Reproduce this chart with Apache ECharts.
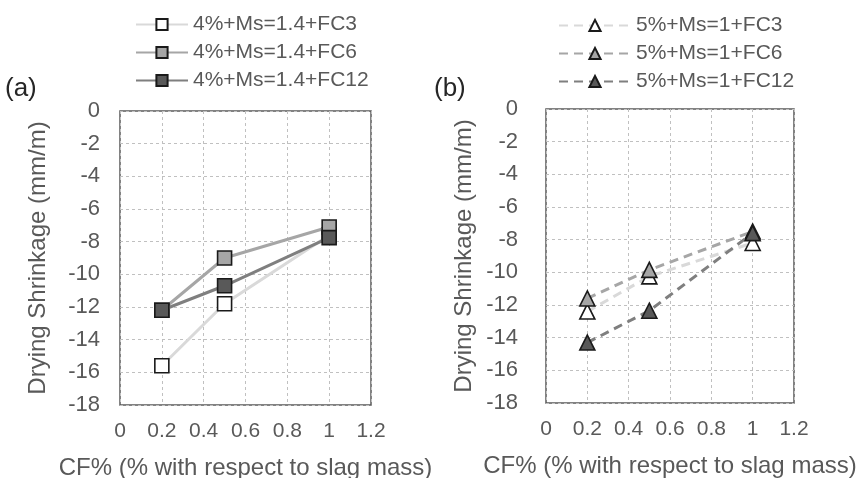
<!DOCTYPE html>
<html>
<head>
<meta charset="utf-8">
<script src="https://cdn.jsdelivr.net/npm/echarts@6/dist/echarts.min.js"></script>
<style>html,body{margin:0;padding:0;background:#fff}#c{width:867px;height:478px}</style>
</head>
<body>
<div id="c"></div>
<script>
// ---- data ----
const cfValues = [0.2, 0.5, 1];
const namesA = ['4%+Ms=1.4+FC3', '4%+Ms=1.4+FC6', '4%+Ms=1.4+FC12'];
const namesB = ['5%+Ms=1+FC3', '5%+Ms=1+FC6', '5%+Ms=1+FC12'];
const a_FC3 = [-15.6, -11.8, -7.6];
const a_FC6 = [-12.2, -9.0, -7.1];
const a_FC12 = [-12.2, -10.7, -7.75];
const b_FC3 = [-12.4, -10.25, -8.2];
const b_FC6 = [-11.6, -9.85, -7.5];
const b_FC12 = [-14.3, -12.35, -7.6];
const panelLabels = ['(a)', '(b)'];
const xTitle = 'CF% (% with respect to slag mass)';
const yTitle = 'Drying Shrinkage (mm/m)';

const FONT = "'Liberation Sans', Arial, sans-serif";
const TXT = '#595959';
const lineColors = ['#d9d9d9', '#a6a6a6', '#7f7f7f'];
const fillColors = ['#ffffff', '#a6a6a6', '#595959'];

function pts(vals) { return cfValues.map((x, i) => [x, vals[i]]); }

function xAxis(gi) {
  return {
    type: 'value', gridIndex: gi, min: 0, max: 1.2, interval: 0.2,
    name: xTitle, nameLocation: 'middle', nameGap: 51,
    nameTextStyle: { fontFamily: FONT, fontSize: 24, color: TXT },
    axisLine: { show: false }, axisTick: { show: false },
    axisLabel: { fontFamily: FONT, fontSize: 21, color: TXT, margin: 16,
      formatter: v => String(Math.round(v * 10) / 10) },
    splitLine: { show: true, lineStyle: { color: '#c0c0c0', type: [3, 3], width: 1 } }
  };
}
function yAxis(gi, margin) {
  return {
    type: 'value', gridIndex: gi, min: -18, max: 0, interval: 2,
    name: yTitle, nameLocation: 'middle', nameGap: 70, nameRotate: 90,
    nameTextStyle: { fontFamily: FONT, fontSize: 24, color: TXT },
    axisLine: { show: false }, axisTick: { show: false },
    axisLabel: { fontFamily: FONT, fontSize: 22, color: TXT, margin: margin },
    splitLine: { show: true, lineStyle: { color: '#c0c0c0', type: [3, 3], width: 1 } }
  };
}

function series(name, vals, idx, gi, sym, dashed) {
  return {
    name: name, type: 'line', xAxisIndex: gi, yAxisIndex: gi,
    data: pts(vals), symbol: sym, symbolSize: sym === 'rect' ? 14 : 15,
    lineStyle: { color: lineColors[idx], width: 3, type: dashed ? [9, 6] : 'solid' },
    itemStyle: { color: fillColors[idx], borderColor: '#1a1a1a', borderWidth: 1.6 },
    emphasis: { disabled: true }, animation: false, z: 2 + idx
  };
}

const chart = echarts.init(document.getElementById('c'), null, { renderer: 'canvas' });
chart.setOption({
  animation: false,
  backgroundColor: '#fff',
  grid: [
    { left: 120, width: 251, top: 111, height: 294, show: true, borderColor: '#595959', borderWidth: 1.5, backgroundColor: 'transparent', containLabel: false, outerBoundsMode: 'none' },
    { left: 546, width: 248, top: 109, height: 294, show: true, borderColor: '#595959', borderWidth: 1.5, backgroundColor: 'transparent', containLabel: false, outerBoundsMode: 'none' }
  ],
  xAxis: [xAxis(0), xAxis(1)],
  yAxis: [yAxis(0, 20), yAxis(1, 28)],
  legend: [
    { data: namesA, orient: 'vertical', left: 130, top: 9, itemWidth: 52, itemHeight: 14, itemGap: 7,
      textStyle: { fontFamily: FONT, fontSize: 21, color: TXT } },
    { data: namesB, orient: 'vertical', left: 553, top: 10, itemWidth: 72, itemHeight: 14, itemGap: 7,
      textStyle: { fontFamily: FONT, fontSize: 21, color: TXT } }
  ],
  graphic: [
    { type: 'text', left: 5, top: 76, style: { text: panelLabels[0], font: '26px ' + FONT, fill: '#262626' } },
    { type: 'text', left: 434, top: 76, style: { text: panelLabels[1], font: '26px ' + FONT, fill: '#262626' } }
  ],
  series: [
    series(namesA[0], a_FC3, 0, 0, 'rect', false),
    series(namesA[1], a_FC6, 1, 0, 'rect', false),
    series(namesA[2], a_FC12, 2, 0, 'rect', false),
    series(namesB[0], b_FC3, 0, 1, 'triangle', true),
    series(namesB[1], b_FC6, 1, 1, 'triangle', true),
    series(namesB[2], b_FC12, 2, 1, 'triangle', true)
  ]
});
</script>
</body>
</html>
